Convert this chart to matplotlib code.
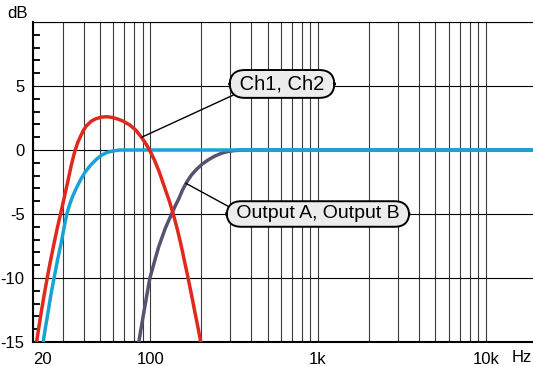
import numpy as np
import matplotlib.pyplot as plt
from matplotlib.ticker import FixedLocator, NullFormatter

plt.rcParams['font.family'] = ['Liberation Sans', 'DejaVu Sans']

# Ch1, Ch2 (red band-pass)
red_f = [20.4, 21.0, 21.7, 22.5, 23.4, 24.3, 25.3, 26.5, 27.8, 29.2, 30.6, 32.2, 33.8,
         35.5, 37, 38.5, 40, 41.7, 44.5, 47, 51, 55, 59, 64, 69, 75.5, 82, 88.5, 94, 99,
         106, 113, 123, 130, 137, 145, 153, 160, 168, 176, 184, 192, 200, 210]
red_db = [-16.5, -15, -13.8, -12.5, -11.2, -10, -8.8, -7.5, -6.2, -5, -3.8, -2.5, -1.2,
          -0.1, 0.6, 1.1, 1.55, 1.9, 2.25, 2.42, 2.57, 2.6, 2.55, 2.42, 2.25, 1.95, 1.55,
          1.0, 0.5, 0, -0.8, -1.7, -3.1, -4.0, -5, -6.2, -7.5, -8.7, -10, -11.3, -12.6,
          -13.8, -15, -16.5]

# cyan high-pass
cyan_f = [22, 23, 23.7, 24.5, 25.5, 26.7, 28, 29.4, 30.6, 31.8, 33, 34.5, 36.5, 38.5,
          41, 44, 47.5, 51, 55, 60, 66, 19100]
cyan_db = [-16.5, -15, -13.9, -12.8, -11.4, -10, -8.6, -7.3, -6.1, -5, -4.3, -3.6, -2.9,
           -2.3, -1.7, -1.2, -0.75, -0.42, -0.2, -0.07, 0, 0]

# Output A, Output B (dark high-pass)
out_f = [83, 85.5, 88.5, 91.5, 95.5, 99.5, 106, 112, 123, 134, 140.5, 148, 156, 165,
         176, 189, 204, 221, 242, 265, 290, 314, 350, 400, 19100]
out_db = [-16.3, -15, -13.8, -12.7, -11.3, -10, -8.7, -7.6, -6.1, -5, -4.4, -3.8, -3.1,
          -2.5, -1.95, -1.5, -1.1, -0.78, -0.48, -0.26, -0.12, -0.05, -0.01, 0, 0]

x_ticks = [20, 100, 1000, 10000]
x_labels = ['20', '100', '1k', '10k']
y_ticks = [-15, -10, -5, 0, 5, 10]
y_labels = ['-15', '-10', '-5', '0', '5', '']

fig = plt.figure(figsize=(5.33, 3.66), dpi=100)
ax = fig.add_axes([33/533, 24/366, 500/533, 320/366])

ax.plot(out_f, out_db, color='#57526f', lw=2.5, zorder=3)
ax.plot(cyan_f, cyan_db, color='#18a3d6', lw=2.5, zorder=4)
ax.plot(red_f, red_db, color='#e2281d', lw=2.5, zorder=5)

ax.set_xscale('log')
ax.set_xlim(20, 19100)
ax.set_ylim(-15, 10)

ax.xaxis.set_major_locator(FixedLocator(x_ticks))
ax.set_xticklabels(x_labels)
minor_x = [m * d for d in [10, 100, 1000] for m in range(2, 10)]
ax.xaxis.set_minor_locator(FixedLocator(minor_x))
ax.xaxis.set_minor_formatter(NullFormatter())
ax.get_xticklabels()[0].set_horizontalalignment('left')

ax.yaxis.set_major_locator(FixedLocator(y_ticks))
ax.set_yticklabels(y_labels)
ax.yaxis.set_minor_locator(FixedLocator([v for v in range(-15, 10) if v % 5 != 0]))

ax.tick_params(axis='x', which='both', length=0, pad=7, labelsize=12)
ax.tick_params(axis='y', which='major', length=0, pad=6, labelsize=12)
ax.tick_params(axis='y', which='minor', direction='in', length=5, width=1.3, color='black')

ax.grid(True, axis='x', which='both', color='#3a3a3a', lw=0.8)
ax.grid(True, axis='y', which='major', color='black', lw=0.8)
ax.set_axisbelow(True)

ax.spines['right'].set_visible(False)
ax.spines['left'].set_linewidth(1.5)
ax.spines['bottom'].set_linewidth(1.5)
ax.spines['top'].set_linewidth(0.8)

fig.text(17/533, 1 - 13/366, 'dB', ha='center', va='center', fontsize=12)
fig.text(512/533, 1 - 358/366, 'Hz', ha='left', va='center', fontsize=12)

box = dict(boxstyle='round,pad=0.22,rounding_size=0.75', fc='#ececec', ec='black', lw=1.4)
ax.annotate(' Ch1, Ch2 ', xy=(89, 1.0), xytext=(610, 5.16), ha='center', va='center',
            fontsize=14.5, bbox=box, zorder=6,
            arrowprops=dict(arrowstyle='-', color='black', lw=1, relpos=(0.05, 0.05),
                            shrinkA=0, shrinkB=0))
ax.annotate(' Output A, Output B ', xy=(163, -2.6), xytext=(998, -5.0), ha='center', va='center',
            fontsize=14, bbox=box, zorder=6,
            arrowprops=dict(arrowstyle='-', color='black', lw=1, relpos=(0.015, 0.78),
                            shrinkA=0, shrinkB=0))

plt.savefig('out.png', dpi=100)
